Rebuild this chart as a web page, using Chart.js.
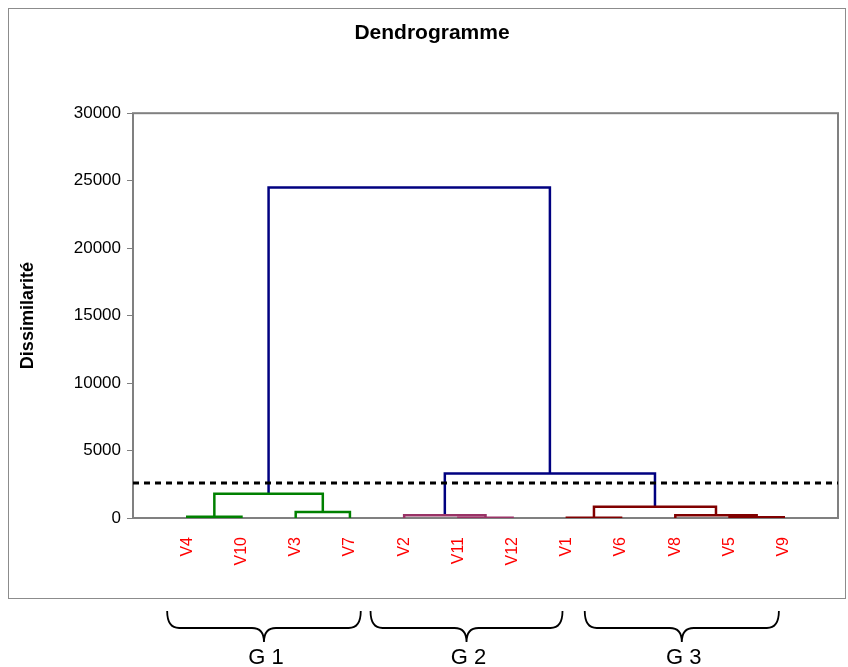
<!DOCTYPE html>
<html><head><meta charset="utf-8">
<script src="https://cdn.jsdelivr.net/npm/chart.js@4/dist/chart.umd.min.js"></script>
<style>html,body{margin:0;padding:0;background:#fff}canvas{display:block}</style>
</head><body>
<canvas id="c" width="848" height="667"></canvas>
<script>
// ---- data ----
const leafLabels = ['V4','V10','V3','V7','V2','V11','V12','V1','V6','V8','V5','V9'];
// merges: children indices (0..11 leaves, 12+ earlier merges) and height
const mergeLeft   = [0, 2, 12, 5, 4, 7, 10, 9, 17, 16, 14];
const mergeRight  = [1, 3, 13, 6, 15, 8, 11, 18, 19, 20, 21];
const mergeHeight = [100, 450, 1800, 20, 200, 20, 50, 200, 830, 3300, 24500];
const mergeGroup  = ['G1','G1','G1','G2','G2','G3','G3','G3','G3','root','root'];
const cutHeight = 2600;
const yTicks = [0, 5000, 10000, 15000, 20000, 25000, 30000];
const groupNames = ['G 1', 'G 2', 'G 3'];
const groupFirstLeaf = [0, 4, 7];
const groupLastLeaf  = [3, 6, 11];

// ---- style ----
const groupColors = { G1: '#008000', G2: '#993366', G3: '#800000', root: '#000080' };
const braceInset = [[-0.37, 0.2], [-0.62, 0.92], [0.33, -0.09]];
const FONT = 'Liberation Sans, Arial, Helvetica, sans-serif';
Chart.defaults.font.family = FONT;

const nodeX = leafLabels.map((_, i) => i + 1);
const nodeH = leafLabels.map(() => 0);
const datasets = [];
datasets.push({
  data: [{x: 0, y: cutHeight}, {x: leafLabels.length + 1, y: cutHeight}],
  borderColor: '#000', borderWidth: 3, borderDash: [6, 5],
  showLine: true, pointRadius: 0, fill: false, tension: 0
});
mergeLeft.forEach((a, k) => {
  const b = mergeRight[k], h = mergeHeight[k];
  datasets.push({
    data: [{x: nodeX[a], y: nodeH[a]}, {x: nodeX[a], y: h}, {x: nodeX[b], y: h}, {x: nodeX[b], y: nodeH[b]}],
    borderColor: groupColors[mergeGroup[k]], borderWidth: 2.5,
    showLine: true, pointRadius: 0, fill: false, tension: 0
  });
  nodeX.push((nodeX[a] + nodeX[b]) / 2);
  nodeH.push(h);
});

const decor = {
  id: 'decor',
  beforeDraw(chart) {
    const ctx = chart.ctx;
    ctx.save();
    ctx.fillStyle = '#fff';
    ctx.fillRect(0, 0, chart.width, chart.height);
    ctx.strokeStyle = '#8c8c8c';
    ctx.lineWidth = 1;
    ctx.strokeRect(8.5, 8.5, 837, 590);
    ctx.restore();
  },
  beforeDatasetsDraw(chart) {
    const ctx = chart.ctx, a = chart.chartArea;
    ctx.save();
    ctx.strokeStyle = '#808080';
    ctx.lineWidth = 2;
    ctx.strokeRect(a.left, a.top, a.right - a.left, a.bottom - a.top);
    ctx.restore();
  },
  afterDraw(chart) {
    const ctx = chart.ctx, xs = chart.scales.x, a = chart.chartArea;
    const top = a.bottom + 93, mid = a.bottom + 110, tip = a.bottom + 124, r = 12;
    ctx.save();
    ctx.strokeStyle = '#000';
    ctx.lineWidth = 1.8;
    groupNames.forEach((name, g) => {
      const x1 = xs.getPixelForValue(groupFirstLeaf[g] + 1 + braceInset[g][0]);
      const x2 = xs.getPixelForValue(groupLastLeaf[g] + 1 + braceInset[g][1]);
      const xc = (x1 + x2) / 2;
      ctx.beginPath();
      ctx.moveTo(x1, top);
      ctx.quadraticCurveTo(x1, mid, x1 + r, mid);
      ctx.lineTo(xc - r, mid);
      ctx.quadraticCurveTo(xc, mid, xc, tip);
      ctx.quadraticCurveTo(xc, mid, xc + r, mid);
      ctx.lineTo(x2 - r, mid);
      ctx.quadraticCurveTo(x2, mid, x2, top);
      ctx.stroke();
      ctx.fillStyle = '#000';
      ctx.font = '22px ' + FONT;
      ctx.textAlign = 'center';
      ctx.textBaseline = 'middle';
      ctx.fillText(name, xc + 2, a.bottom + 140);
    });
    ctx.restore();
  }
};

new Chart(document.getElementById('c'), {
  type: 'scatter',
  data: { datasets },
  plugins: [decor],
  options: {
    responsive: false,
    animation: false,
    events: [],
    layout: { padding: { left: 26, right: 10, top: 0, bottom: 69 } },
    plugins: {
      legend: { display: false },
      tooltip: { enabled: false },
      title: {
        display: true, text: 'Dendrogramme', color: '#000',
        font: { size: 21, weight: 'bold', family: FONT },
        padding: { top: 21, bottom: 67 }
      }
    },
    scales: {
      x: {
        type: 'linear', min: 0, max: leafLabels.length + 1,
        afterFit: s => { s.height = 80; s.paddingLeft = 0; s.paddingRight = 0; },
        border: { display: false },
        grid: { display: true, drawOnChartArea: false, drawTicks: false },
        ticks: {
          stepSize: 1, autoSkip: false, minRotation: 90, maxRotation: 90,
          padding: 19, color: '#ff0000', font: { size: 16, family: FONT },
          callback: v => (v >= 1 && v <= leafLabels.length) ? leafLabels[v - 1] : ''
        }
      },
      y: {
        min: yTicks[0], max: yTicks[yTicks.length - 1],
        afterFit: s => { s.width = 107; s.paddingTop = 0; s.paddingBottom = 0; },
        afterBuildTicks: s => { s.ticks = yTicks.map(v => ({ value: v })); },
        border: { display: false },
        grid: { drawOnChartArea: false, drawTicks: true, tickLength: 6, color: '#808080', lineWidth: 1 },
        ticks: { padding: 6, color: '#000', font: { size: 17, family: FONT }, callback: v => String(v) },
        title: {
          display: true, text: 'Dissimilarité', color: '#000',
          font: { size: 18, weight: 'bold', family: FONT },
          padding: { top: -9, bottom: 0 }
        }
      }
    }
  }
});
</script>
</body></html>
